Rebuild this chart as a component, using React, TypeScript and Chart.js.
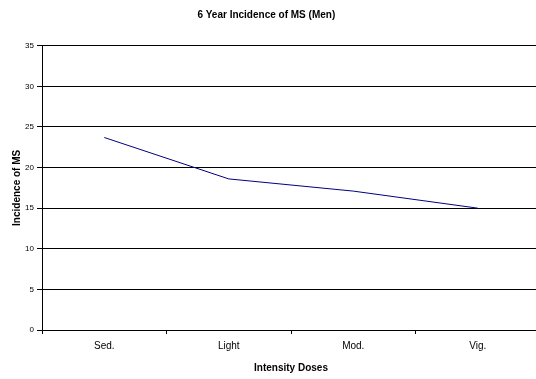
import React, { useEffect, useRef } from "react";
import { Chart, registerables } from "chart.js";

Chart.register(...registerables);

const categories = ["Sed.", "Light", "Mod.", "Vig."];
const incidence = [23.7, 18.6, 17.1, 15.0];
const yTicks = [0, 5, 10, 15, 20, 25, 30, 35];

const FONT = "'Liberation Sans', Arial, sans-serif";
const CW = 541;
const CH = 379;

const titleShift = {
  id: "titleShift",
  afterLayout(chart: any) {
    const t = chart.titleBlock;
    if (t) t.right -= 7.4;
  },
};

export default function App() {
  const ref = useRef<HTMLCanvasElement | null>(null);
  useEffect(() => {
    if (!ref.current) return;
    const chart = new Chart(ref.current, {
      type: "line",
      data: {
        labels: categories,
        datasets: [
          {
            data: incidence,
            borderColor: "#000080",
            borderWidth: 1,
            pointRadius: 0,
            tension: 0,
            fill: false,
          },
        ],
      },
      plugins: [titleShift],
      options: {
        animation: false,
        responsive: false,
        devicePixelRatio: 1,
        layout: { padding: { top: 0, right: 1, left: 0, bottom: 0 } },
        plugins: {
          legend: { display: false },
          tooltip: { enabled: false },
          title: {
            display: true,
            text: "6 Year Incidence of MS (Men)",
            color: "#000",
            font: { family: FONT, size: 10, weight: "bold", lineHeight: 1.2 },
            padding: { top: 9, bottom: 24.7 },
          },
        },
        scales: {
          x: {
            type: "category",
            offset: true,
            grid: {
              offset: true,
              drawOnChartArea: false,
              drawTicks: true,
              tickLength: 4,
              color: "#000",
              lineWidth: 1,
            },
            border: { display: true, color: "#000", width: 1 },
            ticks: { color: "#000", font: { family: FONT, size: 10 }, padding: 6, maxRotation: 0 },
            title: {
              display: true,
              text: "Intensity Doses",
              color: "#000",
              font: { family: FONT, size: 10, weight: "bold", lineHeight: 1.2 },
              padding: { top: 0, bottom: 5 },
            },
            afterFit: (s: any) => {
              s.height = 49;
            },
          },
          y: {
            min: 0,
            max: 35,
            afterBuildTicks: (s: any) => {
              s.ticks = yTicks.map((v) => ({ value: v }));
            },
            grid: {
              color: "#000",
              lineWidth: 1,
              drawTicks: true,
              tickLength: 5,
            },
            border: { display: true, color: "#000", width: 1 },
            ticks: { color: "#000", font: { family: FONT, size: 8 }, padding: 3 },
            title: {
              display: true,
              text: "Incidence of MS",
              color: "#000",
              font: { family: FONT, size: 10, weight: "bold", lineHeight: 1.2 },
              padding: { top: 11, bottom: 0 },
            },
            afterFit: (s: any) => {
              s.width = 42;
            },
          },
        },
      },
    });
    return () => chart.destroy();
  }, []);
  return (
    <div
      style={{
        position: "fixed",
        left: 0,
        top: 0,
        width: 536,
        height: CH,
        overflow: "hidden",
        background: "#fff",
      }}
    >
      <canvas ref={ref} width={CW} height={CH} style={{ width: CW, height: CH, display: "block" }} />
    </div>
  );
}
